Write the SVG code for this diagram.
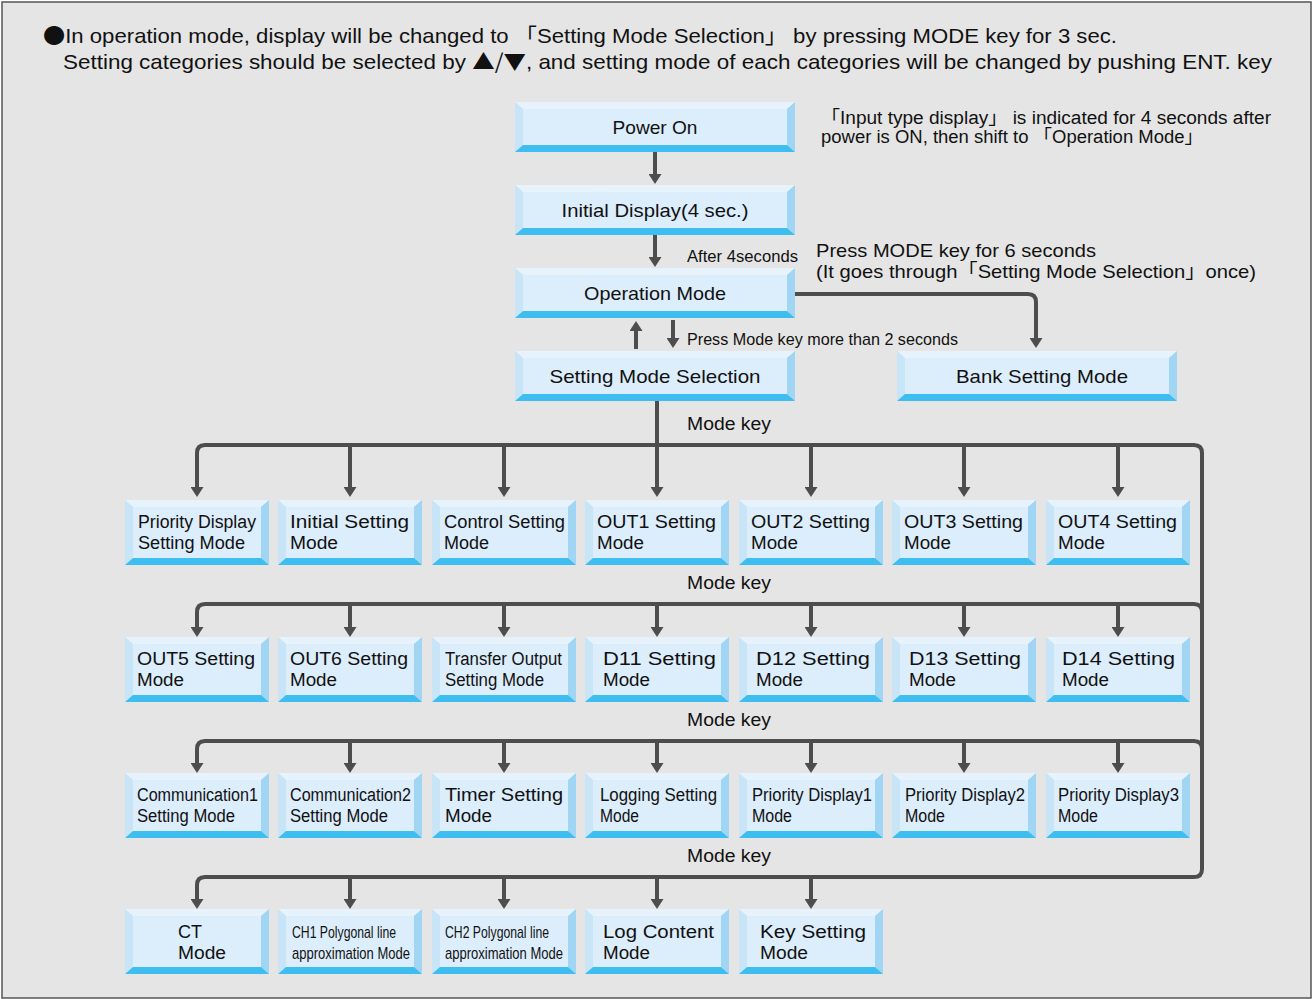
<svg xmlns="http://www.w3.org/2000/svg" xmlns:xlink="http://www.w3.org/1999/xlink" width="1313" height="999" viewBox="0 0 1313 999">
<style>
text{font-family:"Liberation Sans","Noto Sans CJK JP",sans-serif;fill:#111}
.t18{font-size:18px}
.t19{font-size:19px}
.t17{font-size:17px}
.hd{font-size:21px}
.mid{text-anchor:middle}
.cjk{font-family:"Noto Sans CJK JP",sans-serif}
.c{fill:none;stroke:#4d4d4d;stroke-width:4}
.a{marker-end:url(#ah)}
</style>
<defs>
<marker id="ah" markerUnits="userSpaceOnUse" markerWidth="12" markerHeight="13" refX="0" refY="6.5" orient="auto">
<path d="M0,0 L10,6.5 L0,13 z" fill="#4d4d4d"/>
</marker>
<symbol id="big" width="280" height="50" viewBox="0 0 280 50" overflow="visible">
<rect x="8" y="7" width="264" height="36" fill="#dcedfb"/>
<polygon points="0,0 280,0 272,7 8,7" fill="#e6f3fc"/>
<polygon points="0,0 8,7 8,43 0,50" fill="#c8e5f8"/>
<polygon points="280,0 280,50 272,43 272,7" fill="#a0d5f3"/>
<polygon points="0,50 8,43 272,43 280,50" fill="#3ebdf0"/>
</symbol>
<symbol id="sm" width="144" height="65" viewBox="0 0 144 65" overflow="visible">
<rect x="8" y="7" width="128" height="51" fill="#dcedfb"/>
<polygon points="0,0 144,0 136,7 8,7" fill="#e6f3fc"/>
<polygon points="0,0 8,7 8,58 0,65" fill="#c8e5f8"/>
<polygon points="144,0 144,65 136,58 136,7" fill="#a0d5f3"/>
<polygon points="0,65 8,58 136,58 144,65" fill="#3ebdf0"/>
</symbol>
</defs>
<rect x="2" y="2" width="1309" height="996" fill="#e5e5e5" stroke="#555" stroke-width="1.5"/>

<g id="header">
<text class="hd" x="43" y="43" textLength="1074" lengthAdjust="spacingAndGlyphs"><tspan class="cjk">●</tspan>In operation mode, display will be changed to 「Setting Mode Selection」 by pressing MODE key for 3 sec.</text>
<text class="hd" x="63" y="69" textLength="1209" lengthAdjust="spacingAndGlyphs">Setting categories should be selected by <tspan class="cjk">▲/▼</tspan>, and setting mode of each categories will be changed by pushing ENT. key</text>
</g>

<g id="notes">
<text class="t18" x="821" y="124" textLength="450" lengthAdjust="spacingAndGlyphs">「Input type display」 is indicated for 4 seconds after</text>
<text class="t18" x="821" y="143" textLength="382" lengthAdjust="spacingAndGlyphs">power is ON, then shift to 「Operation Mode」</text>
<text class="t19" x="816" y="257" textLength="280" lengthAdjust="spacingAndGlyphs">Press MODE key for 6 seconds</text>
<text class="t19" x="816" y="278" textLength="440" lengthAdjust="spacingAndGlyphs">(It goes through「Setting Mode Selection」once)</text>
<text class="t17" x="687" y="262" textLength="111" lengthAdjust="spacingAndGlyphs">After 4seconds</text>
<text class="t17" x="687" y="345" textLength="271" lengthAdjust="spacingAndGlyphs">Press Mode key more than 2 seconds</text>
<text class="t18" x="687" y="430" textLength="84" lengthAdjust="spacingAndGlyphs">Mode key</text>
<text class="t18" x="687" y="589" textLength="84" lengthAdjust="spacingAndGlyphs">Mode key</text>
<text class="t18" x="687" y="726" textLength="84" lengthAdjust="spacingAndGlyphs">Mode key</text>
<text class="t18" x="687" y="862" textLength="84" lengthAdjust="spacingAndGlyphs">Mode key</text>
</g>

<g id="connectors">
<path class="c a" d="M655,152 V174"/>
<path class="c a" d="M655,235 V257"/>
<path class="c a" d="M795,294 H1028 Q1036,294 1036,302 V338"/>
<path class="c a" d="M636,349 V331"/>
<path class="c a" d="M673,320 V338"/>
<path class="c a" d="M657,401 V487"/>
<path class="c a" d="M197,487 V453 Q197,445 205,445 H1194 Q1202,445 1202,453 V869 Q1202,877 1194,877 H205 Q197,877 197,885 V899"/>
<path class="c a" d="M197,460 V487"/>
<path class="c a" d="M350,445 V487"/>
<path class="c a" d="M504,445 V487"/>
<path class="c a" d="M811,445 V487"/>
<path class="c a" d="M964,445 V487"/>
<path class="c a" d="M1118,445 V487"/>
<path class="c a" d="M1202,612 Q1202,604 1194,604 H205 Q197,604 197,612 V627"/>
<path class="c a" d="M350,604 V627"/>
<path class="c a" d="M504,604 V627"/>
<path class="c a" d="M657,604 V627"/>
<path class="c a" d="M811,604 V627"/>
<path class="c a" d="M964,604 V627"/>
<path class="c a" d="M1118,604 V627"/>
<path class="c a" d="M1202,749 Q1202,741 1194,741 H205 Q197,741 197,749 V763"/>
<path class="c a" d="M350,741 V763"/>
<path class="c a" d="M504,741 V763"/>
<path class="c a" d="M657,741 V763"/>
<path class="c a" d="M811,741 V763"/>
<path class="c a" d="M964,741 V763"/>
<path class="c a" d="M1118,741 V763"/>
<path class="c a" d="M350,877 V899"/>
<path class="c a" d="M504,877 V899"/>
<path class="c a" d="M657,877 V899"/>
<path class="c a" d="M811,877 V899"/>
</g>

<g id="power-on"><use href="#big" x="515" y="102"/><text class="t19 mid" x="655" y="134" textLength="85" lengthAdjust="spacingAndGlyphs">Power On</text></g>
<g id="initial-display"><use href="#big" x="515" y="185"/><text class="t19 mid" x="655" y="217" textLength="187" lengthAdjust="spacingAndGlyphs">Initial Display(4 sec.)</text></g>
<g id="operation-mode"><use href="#big" x="515" y="268"/><text class="t19 mid" x="655" y="300" textLength="142" lengthAdjust="spacingAndGlyphs">Operation Mode</text></g>
<g id="setting-mode-selection"><use href="#big" x="515" y="351"/><text class="t19 mid" x="655" y="383" textLength="211" lengthAdjust="spacingAndGlyphs">Setting Mode Selection</text></g>
<g id="bank-setting-mode"><use href="#big" x="897" y="351"/><text class="t19 mid" x="1042" y="383" textLength="172" lengthAdjust="spacingAndGlyphs">Bank Setting Mode</text></g>

<g id="priority-display-setting"><use href="#sm" x="125" y="500"/><text class="t18" x="138" y="528" textLength="118" lengthAdjust="spacingAndGlyphs">Priority Display</text><text class="t18" x="138" y="549" textLength="107" lengthAdjust="spacingAndGlyphs">Setting Mode</text></g>
<g id="initial-setting"><use href="#sm" x="278" y="500"/><text class="t18" x="290" y="528" textLength="119" lengthAdjust="spacingAndGlyphs">Initial Setting</text><text class="t18" x="290" y="549" textLength="48" lengthAdjust="spacingAndGlyphs">Mode</text></g>
<g id="control-setting"><use href="#sm" x="432" y="500"/><text class="t18" x="444" y="528" textLength="121" lengthAdjust="spacingAndGlyphs">Control Setting</text><text class="t18" x="444" y="549">Mode</text></g>
<g id="out1-setting"><use href="#sm" x="585" y="500"/><text class="t18" x="597" y="528" textLength="119" lengthAdjust="spacingAndGlyphs">OUT1 Setting</text><text class="t18" x="597" y="549" textLength="47" lengthAdjust="spacingAndGlyphs">Mode</text></g>
<g id="out2-setting"><use href="#sm" x="739" y="500"/><text class="t18" x="751" y="528" textLength="119" lengthAdjust="spacingAndGlyphs">OUT2 Setting</text><text class="t18" x="751" y="549" textLength="47" lengthAdjust="spacingAndGlyphs">Mode</text></g>
<g id="out3-setting"><use href="#sm" x="892" y="500"/><text class="t18" x="904" y="528" textLength="119" lengthAdjust="spacingAndGlyphs">OUT3 Setting</text><text class="t18" x="904" y="549" textLength="47" lengthAdjust="spacingAndGlyphs">Mode</text></g>
<g id="out4-setting"><use href="#sm" x="1046" y="500"/><text class="t18" x="1058" y="528" textLength="119" lengthAdjust="spacingAndGlyphs">OUT4 Setting</text><text class="t18" x="1058" y="549" textLength="47" lengthAdjust="spacingAndGlyphs">Mode</text></g>

<g id="out5-setting"><use href="#sm" x="125" y="637"/><text class="t18" x="137" y="665" textLength="118" lengthAdjust="spacingAndGlyphs">OUT5 Setting</text><text class="t18" x="137" y="686" textLength="47" lengthAdjust="spacingAndGlyphs">Mode</text></g>
<g id="out6-setting"><use href="#sm" x="278" y="637"/><text class="t18" x="290" y="665" textLength="118" lengthAdjust="spacingAndGlyphs">OUT6 Setting</text><text class="t18" x="290" y="686" textLength="47" lengthAdjust="spacingAndGlyphs">Mode</text></g>
<g id="transfer-output-setting"><use href="#sm" x="432" y="637"/><text class="t18" x="445" y="665" textLength="117" lengthAdjust="spacingAndGlyphs">Transfer Output</text><text class="t18" x="445" y="686" textLength="99" lengthAdjust="spacingAndGlyphs">Setting Mode</text></g>
<g id="d11-setting"><use href="#sm" x="585" y="637"/><text class="t18" x="603" y="665" textLength="113" lengthAdjust="spacingAndGlyphs">D11 Setting</text><text class="t18" x="603" y="686" textLength="47" lengthAdjust="spacingAndGlyphs">Mode</text></g>
<g id="d12-setting"><use href="#sm" x="739" y="637"/><text class="t18" x="756" y="665" textLength="114" lengthAdjust="spacingAndGlyphs">D12 Setting</text><text class="t18" x="756" y="686" textLength="47" lengthAdjust="spacingAndGlyphs">Mode</text></g>
<g id="d13-setting"><use href="#sm" x="892" y="637"/><text class="t18" x="909" y="665" textLength="112" lengthAdjust="spacingAndGlyphs">D13 Setting</text><text class="t18" x="909" y="686" textLength="47" lengthAdjust="spacingAndGlyphs">Mode</text></g>
<g id="d14-setting"><use href="#sm" x="1046" y="637"/><text class="t18" x="1062" y="665" textLength="113" lengthAdjust="spacingAndGlyphs">D14 Setting</text><text class="t18" x="1062" y="686" textLength="47" lengthAdjust="spacingAndGlyphs">Mode</text></g>

<g id="communication1-setting"><use href="#sm" x="125" y="773"/><text class="t18" x="137" y="801" textLength="121" lengthAdjust="spacingAndGlyphs">Communication1</text><text class="t18" x="137" y="822" textLength="98" lengthAdjust="spacingAndGlyphs">Setting Mode</text></g>
<g id="communication2-setting"><use href="#sm" x="278" y="773"/><text class="t18" x="290" y="801" textLength="121" lengthAdjust="spacingAndGlyphs">Communication2</text><text class="t18" x="290" y="822" textLength="98" lengthAdjust="spacingAndGlyphs">Setting Mode</text></g>
<g id="timer-setting"><use href="#sm" x="432" y="773"/><text class="t18" x="445" y="801" textLength="118" lengthAdjust="spacingAndGlyphs">Timer Setting</text><text class="t18" x="445" y="822" textLength="47" lengthAdjust="spacingAndGlyphs">Mode</text></g>
<g id="logging-setting"><use href="#sm" x="585" y="773"/><text class="t18" x="600" y="801" textLength="117" lengthAdjust="spacingAndGlyphs">Logging Setting</text><text class="t18" x="600" y="822" textLength="39" lengthAdjust="spacingAndGlyphs">Mode</text></g>
<g id="priority-display1"><use href="#sm" x="739" y="773"/><text class="t18" x="752" y="801" textLength="120" lengthAdjust="spacingAndGlyphs">Priority Display1</text><text class="t18" x="752" y="822" textLength="40" lengthAdjust="spacingAndGlyphs">Mode</text></g>
<g id="priority-display2"><use href="#sm" x="892" y="773"/><text class="t18" x="905" y="801" textLength="120" lengthAdjust="spacingAndGlyphs">Priority Display2</text><text class="t18" x="905" y="822" textLength="40" lengthAdjust="spacingAndGlyphs">Mode</text></g>
<g id="priority-display3"><use href="#sm" x="1046" y="773"/><text class="t18" x="1058" y="801" textLength="121" lengthAdjust="spacingAndGlyphs">Priority Display3</text><text class="t18" x="1058" y="822" textLength="40" lengthAdjust="spacingAndGlyphs">Mode</text></g>

<g id="ct-mode"><use href="#sm" x="125" y="909"/><text class="t18" x="178" y="938" textLength="24" lengthAdjust="spacingAndGlyphs">CT</text><text class="t18" x="178" y="959" textLength="48" lengthAdjust="spacingAndGlyphs">Mode</text></g>
<g id="ch1-polygonal"><use href="#sm" x="278" y="909"/><text class="t17" x="292" y="938" textLength="104" lengthAdjust="spacingAndGlyphs">CH1 Polygonal line</text><text class="t17" x="292" y="959" textLength="118" lengthAdjust="spacingAndGlyphs">approximation Mode</text></g>
<g id="ch2-polygonal"><use href="#sm" x="432" y="909"/><text class="t17" x="445" y="938" textLength="104" lengthAdjust="spacingAndGlyphs">CH2 Polygonal line</text><text class="t17" x="445" y="959" textLength="118" lengthAdjust="spacingAndGlyphs">approximation Mode</text></g>
<g id="log-content"><use href="#sm" x="585" y="909"/><text class="t18" x="603" y="938" textLength="111" lengthAdjust="spacingAndGlyphs">Log Content</text><text class="t18" x="603" y="959" textLength="47" lengthAdjust="spacingAndGlyphs">Mode</text></g>
<g id="key-setting"><use href="#sm" x="739" y="909"/><text class="t18" x="760" y="938" textLength="106" lengthAdjust="spacingAndGlyphs">Key Setting</text><text class="t18" x="760" y="959" textLength="48" lengthAdjust="spacingAndGlyphs">Mode</text></g>
</svg>
